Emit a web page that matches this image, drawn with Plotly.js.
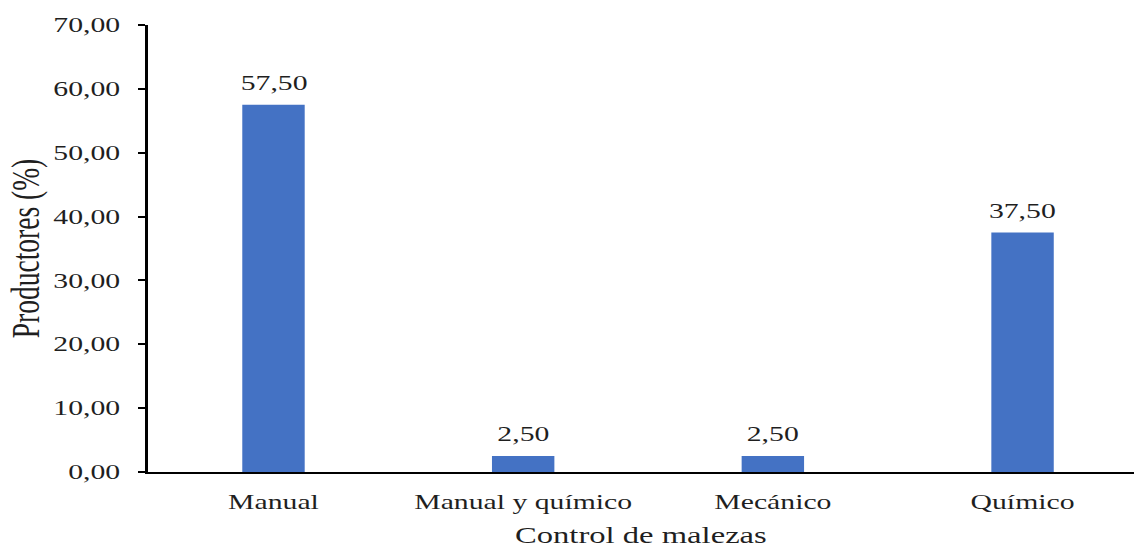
<!DOCTYPE html>
<html>
<head>
<meta charset="utf-8">
<script src="https://cdn.plot.ly/plotly-3.0.1.min.js"></script>
<style>
  html, body { margin: 0; padding: 0; background: #ffffff; overflow: hidden; }
  /* the chart is laid out narrow and widened horizontally */
  #chart { width: 782px; height: 548px; transform: scaleX(1.45); transform-origin: 0 0; }
</style>
</head>
<body>
<div id="chart"></div>
<script>
// Weed control method used by producers (%)
const categories = ['Manual', 'Manual y químico', 'Mecánico', 'Químico'];
const producerShare = [57.5, 2.5, 2.5, 37.5];
const yTickValues = [0, 10, 20, 30, 40, 50, 60, 70];

const serif = '"Liberation Serif", "Times New Roman", serif';
const textColor = '#1f1f1f';
const fmt = v => v.toFixed(2).replace('.', ',');

const trace = {
  type: 'bar',
  x: categories,
  y: producerShare,
  width: 0.25,
  marker: { color: '#4472C4', line: { width: 0 } },
  hoverinfo: 'x+y'
};

const valueLabels = categories.map((c, i) => ({
  x: c,
  y: producerShare[i],
  xref: 'x',
  yref: 'y',
  text: fmt(producerShare[i]),
  showarrow: false,
  yanchor: 'bottom',
  yshift: 9,
  font: { family: serif, size: 20.5, color: textColor }
}));

const layout = {
  width: 782,
  height: 548,
  margin: { l: 102, r: 0, t: 25, b: 76 },
  paper_bgcolor: '#ffffff',
  plot_bgcolor: '#ffffff',
  separators: ',.',
  showlegend: false,
  font: { family: serif, color: textColor },
  xaxis: {
    type: 'category',
    range: [-0.503, 3.446],
    showline: true,
    linecolor: '#000000',
    linewidth: 2,
    ticks: '',
    showgrid: false,
    zeroline: false,
    tickfont: { family: serif, size: 20.5, color: textColor },
    ticklabelstandoff: 10,
    title: { text: 'Control de malezas', font: { family: serif, size: 22.5, color: textColor }, standoff: 18 },
    automargin: false
  },
  yaxis: {
    range: [0, 70],
    tickvals: yTickValues,
    tickformat: '.2f',
    showline: true,
    linecolor: '#000000',
    linewidth: 2,
    ticks: 'outside',
    ticklen: 5,
    tickwidth: 2,
    tickcolor: '#000000',
    showgrid: false,
    zeroline: false,
    tickfont: { family: serif, size: 20.5, color: textColor },
    ticklabelstandoff: 8,
    title: { text: 'Productores (%)', font: { family: serif, size: 27.5, color: textColor }, standoff: 1 },
    automargin: false
  },
  annotations: valueLabels
};

Plotly.newPlot('chart', [trace], layout, { displayModeBar: false, staticPlot: true });
</script>
</body>
</html>
